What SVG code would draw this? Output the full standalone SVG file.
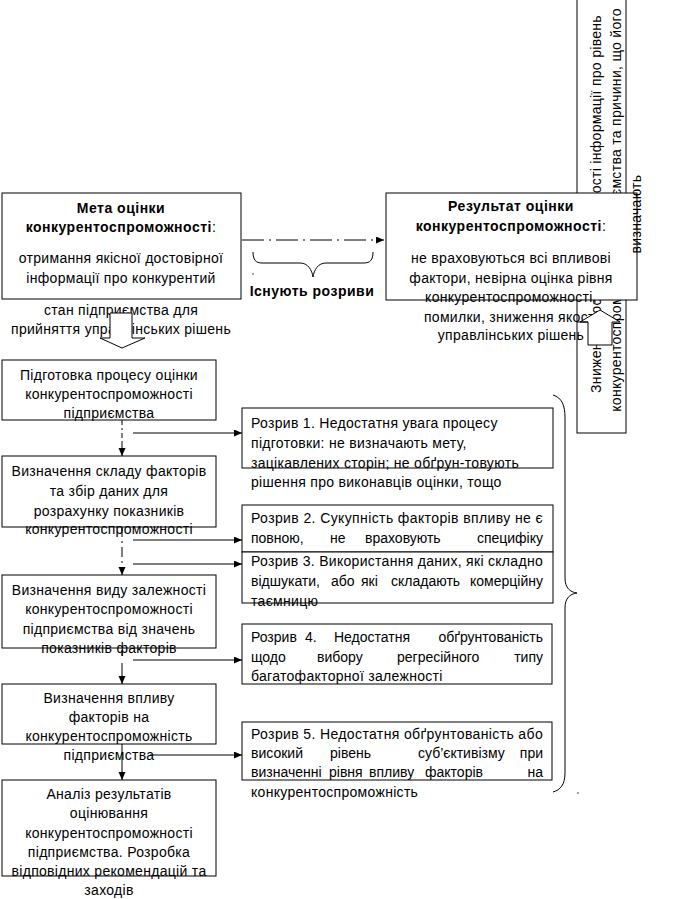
<svg xmlns="http://www.w3.org/2000/svg" width="673" height="899" viewBox="0 0 673 899">
<style>
text{font-family:"Liberation Sans",Arial,sans-serif;font-size:14px;fill:#000;letter-spacing:0.3px}
.c{text-anchor:middle}
.e{text-anchor:end}
.j{letter-spacing:0}
.b{font-weight:bold;letter-spacing:0.5px}
.box{fill:#fff;stroke:#000;stroke-width:1}
.ln{fill:none;stroke:#000;stroke-width:1}
.dd{stroke-dasharray:22,5,2,5}
</style>
<defs>
<marker id="ah" markerUnits="userSpaceOnUse" markerWidth="9" markerHeight="8" refX="8" refY="3.5" orient="auto">
<path d="M0,0 L8,3.5 L0,7 z" fill="#000"/>
</marker>
</defs>

<g id="side-box">
<rect class="box" x="577" y="-1" width="49" height="434"/>
<text transform="translate(601,204) rotate(-90)" class="c">Зниження достовірності та якості інформації про рівень</text>
<text transform="translate(621,210) rotate(-90)" class="c">конкурентоспроможності підприємства та причини, що його</text>
</g>

<g id="goal">
<rect class="box" x="2" y="193" width="239" height="106"/>
<text x="121" y="213" class="c b">Мета оцінки</text>
<text x="121" y="232" class="c b">конкурентоспроможності<tspan font-weight="normal">:</tspan></text>
<text x="121" y="263" class="c">отримання якісної достовірної</text>
<text x="121" y="283" class="c">інформації про конкурентий</text>
<text x="121" y="315" class="c">стан підприємства для</text>
<text x="121" y="334" class="c">прийняття управлінських рішень</text>
<polygon class="box" points="110,313 132,313 132,338 145,338 122,348 100,338 110,338"/>
</g>

<g id="result">
<rect class="box" x="386" y="193" width="251" height="107"/>
<text x="511" y="211" class="c b">Результат оцінки</text>
<text x="511" y="231" class="c b">конкурентоспроможності<tspan font-weight="normal">:</tspan></text>
<text x="511" y="263" class="c">не враховуються всі впливові</text>
<text x="511" y="283" class="c">фактори, невірна оцінка рівня</text>
<text x="511" y="302" class="c">конкурентоспроможності,</text>
<text x="511" y="322" class="c">помилки, зниження якості</text>
<text x="511" y="340" class="c">управлінських рішень</text>
<polygon class="box" points="588,345 612,345 612,322 620,322 600,310 580,322 588,322"/>
<line class="ln" x1="577" y1="322" x2="588" y2="322"/>
</g>
<text transform="translate(641,214) rotate(-90)" class="c">визначають</text>

<g id="gaps-label">
<path class="ln" d="M253,252 C253,260 256,263 262,263 L300,263 C308,263 312,270 313,277 C314,270 318,263 326,263 L364,263 C370,263 373,260 373,252"/>
<circle cx="253" cy="274" r="0.7" fill="#000"/>
<text x="312" y="296" class="c b">Існують розриви</text>
</g>

<g id="step1">
<rect class="box" x="2" y="360" width="214" height="60"/>
<text x="109" y="380" class="c">Підготовка процесу оцінки</text>
<text x="109" y="399" class="c">конкурентоспроможності</text>
<text x="109" y="418" class="c">підприємства</text>
</g>
<g id="step2">
<rect class="box" x="2" y="456" width="214" height="71"/>
<text x="109" y="476" class="c">Визначення складу факторів</text>
<text x="109" y="496" class="c">та збір даних для</text>
<text x="109" y="516" class="c">розрахунку показників</text>
<text x="109" y="534" class="c">конкурентоспроможності</text>
</g>
<g id="step3">
<rect class="box" x="2" y="575" width="214" height="73"/>
<text x="109" y="595" class="c">Визначення виду залежності</text>
<text x="109" y="614" class="c">конкурентоспроможності</text>
<text x="109" y="634" class="c">підприємства від значень</text>
<text x="109" y="653" class="c">показників факторів</text>
</g>
<g id="step4">
<rect class="box" x="2" y="684" width="214" height="60"/>
<text x="109" y="703" class="c">Визначення впливу</text>
<text x="109" y="722" class="c">факторів на</text>
<text x="109" y="741" class="c">конкурентоспроможність</text>
<text x="109" y="760" class="c">підприємства</text>
</g>
<g id="step5">
<rect class="box" x="2" y="780" width="214" height="96"/>
<text x="109" y="799" class="c">Аналіз результатів</text>
<text x="109" y="818" class="c">оцінювання</text>
<text x="109" y="838" class="c">конкурентоспроможності</text>
<text x="109" y="857" class="c">підприємства. Розробка</text>
<text x="109" y="876" class="c">відповідних рекомендацій та</text>
<text x="109" y="895" class="c">заходів</text>
</g>

<g id="gap1">
<rect class="box" x="242" y="408" width="311" height="60"/>
<text x="251" y="428">Розрив 1. Недостатня увага процесу</text>
<text x="251" y="448">підготовки: не визначають мету,</text>
<text x="251" y="468">зацікавлених сторін; не обґрун-товують</text>
<text x="251" y="487">рішення про виконавців оцінки, тощо</text>
</g>
<g id="gap2">
<rect class="box" x="242" y="505" width="311" height="47"/>
<text x="251" y="523" textLength="292" lengthAdjust="spacing">Розрив 2. Сукупність факторів впливу не є</text>
<text y="543" class="j"><tspan x="251">повною,</tspan><tspan x="330">не</tspan><tspan x="365">враховують</tspan></text>
<text x="543" y="543" class="e j">специфіку</text>
</g>
<g id="gap3">
<rect class="box" x="242" y="552" width="311" height="51"/>
<text x="251" y="566" textLength="292" lengthAdjust="spacing">Розрив 3. Використання даних, які складно</text>
<text y="586" class="j"><tspan x="251">відшукати,</tspan><tspan x="331">або</tspan><tspan x="361">які</tspan><tspan x="391">складають</tspan></text>
<text x="543" y="586" class="e j">комерційну</text>
<text x="251" y="606">таємницю</text>
</g>
<g id="gap4">
<rect class="box" x="242" y="624" width="310" height="60"/>
<text y="642" class="j"><tspan x="251">Розрив</tspan><tspan x="305">4.</tspan><tspan x="334">Недостатня</tspan></text>
<text x="543" y="642" class="e j">обґрунтованість</text>
<text y="662" class="j"><tspan x="251">щодо</tspan><tspan x="317">вибору</tspan><tspan x="397">регресійного</tspan></text>
<text x="543" y="662" class="e j">типу</text>
<text x="251" y="681">багатофакторної залежності</text>
</g>
<g id="gap5">
<rect class="box" x="242" y="722" width="310" height="58"/>
<text x="251" y="739" textLength="292" lengthAdjust="spacing">Розрив 5. Недостатня обґрунтованість або</text>
<text y="758" class="j"><tspan x="251">високий</tspan><tspan x="330">рівень</tspan><tspan x="418">суб’єктивізму</tspan></text>
<text x="543" y="758" class="e j">при</text>
<text y="777" class="j"><tspan x="251">визначенні</tspan><tspan x="329">рівня</tspan><tspan x="369">впливу</tspan><tspan x="425">факторів</tspan></text>
<text x="543" y="777" class="e j">на</text>
<text x="251" y="797">конкурентоспроможність</text>
</g>

<g id="brace">
<path class="ln" d="M553,395 C562,398 565,405 565,418 L565,578 C565,588 570,592 577,593 C570,594 565,598 565,608 L565,773 C565,785 560,790 553,792"/>
<circle cx="578" cy="793" r="0.7" fill="#000"/>
</g>

<g id="connectors">
<line class="ln dd" x1="242" y1="240" x2="384" y2="240" marker-end="url(#ah)"/>
<line class="ln" x1="122" y1="420" x2="122" y2="438" stroke-dasharray="5,3,2,3"/>
<line class="ln" x1="122" y1="441" x2="122" y2="456" marker-end="url(#ah)"/>
<line class="ln" x1="122" y1="527" x2="122" y2="575" stroke-dasharray="10,4,2,4" marker-end="url(#ah)"/>
<line class="ln" x1="122" y1="650" x2="122" y2="656"/>
<line class="ln" x1="122" y1="663" x2="122" y2="684" marker-end="url(#ah)"/>
<line class="ln" x1="122" y1="744" x2="122" y2="780" marker-end="url(#ah)"/>
<line class="ln" x1="133" y1="433" x2="242" y2="433" marker-end="url(#ah)"/>
<line class="ln" x1="133" y1="540" x2="242" y2="540" marker-end="url(#ah)"/>
<line class="ln" x1="133" y1="564" x2="242" y2="564" marker-end="url(#ah)"/>
<line class="ln" x1="133" y1="660" x2="242" y2="660" marker-end="url(#ah)"/>
<line class="ln" x1="150" y1="755" x2="242" y2="755" marker-end="url(#ah)"/>
</g>
</svg>
